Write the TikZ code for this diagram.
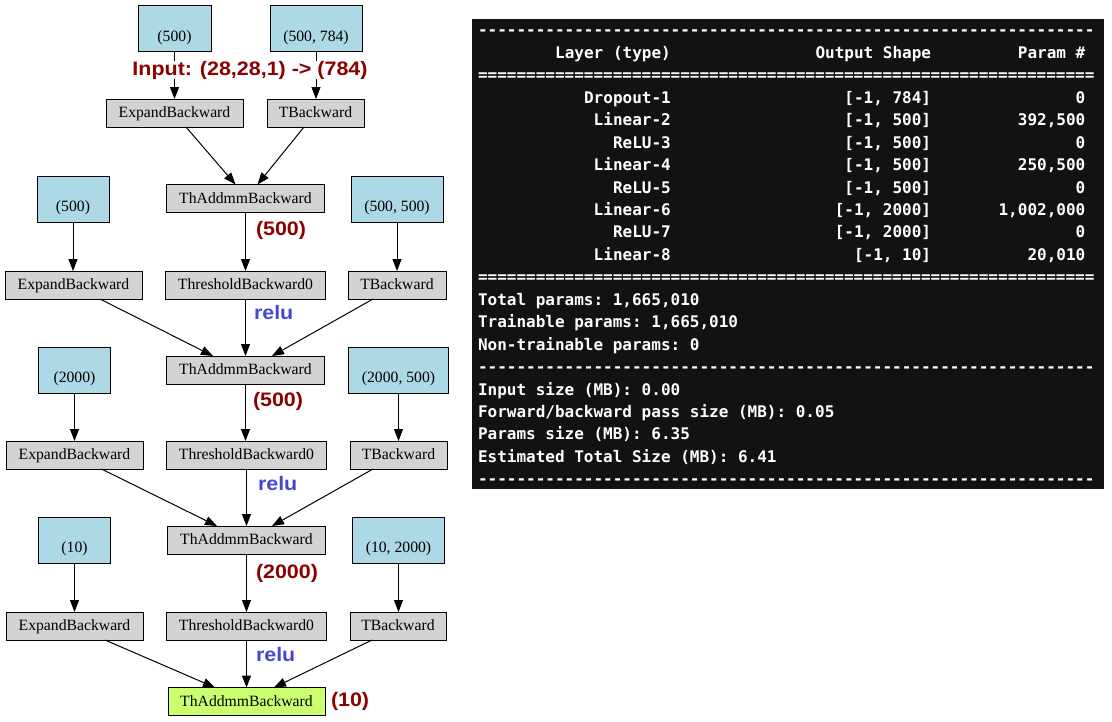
\documentclass[tikz,border=0pt]{standalone}
\usepackage{fontspec}
\setmainfont{Liberation Serif}
\setmonofont{DejaVu Sans Mono}
\newfontfamily\labfont{Liberation Sans}[FakeStretch=1.1]
\usetikzlibrary{arrows.meta}
\definecolor{bluebox}{HTML}{ADD8E6}
\definecolor{graybox}{HTML}{D3D3D3}
\definecolor{greenbox}{HTML}{CAFF70}
\definecolor{labred}{HTML}{8B0000}
\definecolor{labblue}{HTML}{4646D2}
\definecolor{termbg}{HTML}{121212}
\newcommand\trow[5]{%
  \node[tt,anchor=base east] (#1a) at (670.8,#2) {#3};
  \node[tt,anchor=base east] (#1b) at (931.1,#2) {#4};
  \node[tt,anchor=base east] (#1c) at (1085.3,#2) {#5};}
\begin{document}
\begin{tikzpicture}[x=1pt,y=-1pt,
  every node/.style={inner sep=0pt,outer sep=0pt},
  gbox/.style={draw=black,line width=1pt,fill=graybox,minimum height=28pt,
    text height=10.4pt,text depth=1pt,font=\fontsize{15.7}{16}\selectfont},
  bbox/.style={draw=black,line width=1pt,fill=bluebox,minimum height=46pt,
    text height=29pt,text depth=3.5pt,font=\fontsize{15.7}{16}\selectfont},
  fbox/.style={gbox,fill=greenbox},
  edge/.style={line width=1pt,-{Triangle[length=12pt,width=9pt]}},
  dimlab/.style={anchor=west,text=labred,font=\labfont\bfseries\fontsize{19.5}{20}\selectfont},
  rellab/.style={anchor=west,text=labblue,font=\labfont\bfseries\fontsize{19.5}{20}\selectfont},
  tt/.style={text=white,font=\ttfamily\bfseries\fontsize{16}{16}\selectfont}]
\useasboundingbox (0,0) rectangle (1112,721);
\fill[white] (0,0) rectangle (1112,721);

% ---- blue parameter boxes
\node[bbox,minimum width=73pt] (b1) at (174.5,28.5) {(500)};
\node[bbox,minimum width=92pt] (b2) at (316,28.5) {(500, 784)};
\node[bbox,minimum width=72pt] (b3) at (73,199) {(500)};
\node[bbox,minimum width=92pt] (b4) at (397,199) {(500, 500)};
\node[bbox,minimum width=72pt] (b5) at (74.5,370) {(2000)};
\node[bbox,minimum width=100pt] (b6) at (398.5,370) {(2000, 500)};
\node[bbox,minimum width=72pt] (b7) at (74.5,540) {(10)};
\node[bbox,minimum width=92pt] (b8) at (398.5,540) {(10, 2000)};

% ---- gray function boxes
\node[gbox,minimum width=137pt] (e1) at (174.5,113) {ExpandBackward};
\node[gbox,minimum width=97pt] (tb1) at (315.5,113) {TBackward};
\node[gbox,minimum width=158pt] (t1) at (245.5,198.5) {ThAddmmBackward};
\node[gbox,minimum width=137pt] (e2) at (73.5,285) {ExpandBackward};
\node[gbox,minimum width=160pt] (th2) at (245.5,285) {ThresholdBackward0};
\node[gbox,minimum width=98pt] (tb2) at (397,285) {TBackward};
\node[gbox,minimum width=158pt] (t2) at (245.5,370) {ThAddmmBackward};
\node[gbox,minimum width=137pt] (e3) at (74.5,455) {ExpandBackward};
\node[gbox,minimum width=160pt] (th3) at (246.5,455) {ThresholdBackward0};
\node[gbox,minimum width=97pt] (tb3) at (398.5,455) {TBackward};
\node[gbox,minimum width=158pt] (t3) at (246.5,540) {ThAddmmBackward};
\node[gbox,minimum width=137pt] (e4) at (74.5,626) {ExpandBackward};
\node[gbox,minimum width=160pt] (th4) at (246.5,626) {ThresholdBackward0};
\node[gbox,minimum width=96pt] (tb4) at (398,626) {TBackward};
\node[fbox,minimum width=157pt] (fin) at (246.5,701.5) {ThAddmmBackward};

% ---- edges
\draw[edge] (b1.south) -- (e1.north -| b1.south);
\draw[edge] (b2.south) -- (tb1.north -| b2.south);
\draw[edge] ([xshift=11.5pt]e1.south) -- ([xshift=-10pt]t1.north);
\draw[edge] ([xshift=-11.5pt]tb1.south) -- ([xshift=12pt]t1.north);

\draw[edge] (b3.south) -- (e2.north -| b3.south);
\draw[edge] (t1.south) -- (th2.north);
\draw[edge] (b4.south) -- (tb2.north -| b4.south);
\draw[edge] ([xshift=26.5pt]e2.south) -- ([xshift=-32.5pt]t2.north);
\draw[edge] (th2.south) -- (t2.north);
\draw[edge] ([xshift=-24pt]tb2.south) -- ([xshift=26.5pt]t2.north);

\draw[edge] (b5.south) -- (e3.north -| b5.south);
\draw[edge] (t2.south) -- (th3.north -| t2.south);
\draw[edge] (b6.south) -- (tb3.north -| b6.south);
\draw[edge] ([xshift=27pt]e3.south) -- ([xshift=-29.5pt]t3.north);
\draw[edge] (th3.south) -- (t3.north);
\draw[edge] ([xshift=-25.5pt]tb3.south) -- ([xshift=25.5pt]t3.north);

\draw[edge] (b7.south) -- (e4.north -| b7.south);
\draw[edge] (t3.south) -- (th4.north);
\draw[edge] (b8.south) -- (tb4.north -| b8.south);
\draw[edge] ([xshift=30.5pt]e4.south) -- ([xshift=-31.5pt]fin.north);
\draw[edge] (th4.south) -- (fin.north);
\draw[edge] ([xshift=-26pt]tb4.south) -- ([xshift=27.5pt]fin.north);

% ---- edge labels
\node[fill=white,inner xsep=1pt,inner ysep=0pt,text=labred,
  font=\labfont\bfseries\fontsize{19.5}{20}\selectfont] (inp) at (250,70) {Input: (28,28,1) -> (784)};
\node[dimlab] (d1) at (256,230.5) {(500)};
\node[rellab] (r1) at (254,313) {relu};
\node[dimlab] (d2) at (253,401) {(500)};
\node[rellab] (r2) at (258,484) {relu};
\node[dimlab] (d3) at (256,573.5) {(2000)};
\node[rellab] (r3) at (256,655) {relu};
\node[dimlab] (d4) at (331,701) {(10)};

% ---- model summary terminal
\node[fill=termbg,minimum width=632pt,minimum height=470pt,anchor=north west] (term) at (472,18.5) {};
\node[tt,anchor=base west] (l0) at (478,35.8) {----------------------------------------------------------------};
\trow{h}{58.3}{Layer (type)}{Output Shape}{Param \#}
\node[tt,anchor=base west] (l2) at (478,80.7) {================================================================};
\trow{ra}{103.2}{Dropout-1}{[-1, 784]}{0}
\trow{rb}{125.6}{Linear-2}{[-1, 500]}{392,500}
\trow{rc}{148.1}{ReLU-3}{[-1, 500]}{0}
\trow{rd}{170.5}{Linear-4}{[-1, 500]}{250,500}
\trow{re}{193.0}{ReLU-5}{[-1, 500]}{0}
\trow{rf}{215.4}{Linear-6}{[-1, 2000]}{1,002,000}
\trow{rg}{237.9}{ReLU-7}{[-1, 2000]}{0}
\trow{rh}{260.3}{Linear-8}{[-1, 10]}{20,010}
\node[tt,anchor=base west] (l11) at (478,282.8) {================================================================};
\node[tt,anchor=base west] (l12) at (478,305.2) {Total params: 1,665,010};
\node[tt,anchor=base west] (l13) at (478,327.7) {Trainable params: 1,665,010};
\node[tt,anchor=base west] (l14) at (478,350.1) {Non-trainable params: 0};
\node[tt,anchor=base west] (l15) at (478,372.6) {----------------------------------------------------------------};
\node[tt,anchor=base west] (l16) at (478,395.0) {Input size (MB): 0.00};
\node[tt,anchor=base west] (l17) at (478,417.5) {Forward/backward pass size (MB): 0.05};
\node[tt,anchor=base west] (l18) at (478,439.9) {Params size (MB): 6.35};
\node[tt,anchor=base west] (l19) at (478,462.4) {Estimated Total Size (MB): 6.41};
\node[tt,anchor=base west] (l20) at (478,484.8) {----------------------------------------------------------------};
\end{tikzpicture}
\end{document}
